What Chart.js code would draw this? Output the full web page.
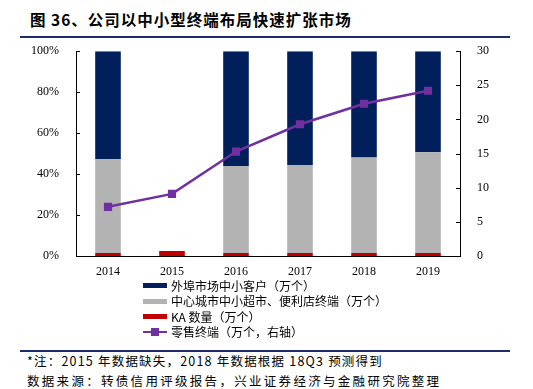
<!DOCTYPE html>
<html>
<head>
<meta charset="utf-8">
<script src="https://cdn.jsdelivr.net/npm/chart.js@4"></script>
<style>
    body { margin: 0; width: 533px; height: 389px; background: #fff; position: relative; overflow: hidden;
           font-family: "Noto Sans CJK SC", "Liberation Serif", serif; }
    #titulo { position: absolute; left: 30px; top: 8px; font-size: 15.5px; font-weight: bold; color: #000; white-space: nowrap; letter-spacing: 1px; }
    .linha { position: absolute; left: 20px; width: 490px; height: 2px; background: #1f2a6b; }
    #grafico { position: absolute; left: 0; top: 35px; }
    #legenda { position: absolute; left: 143px; top: 278px; font-size: 12px; line-height: 15.4px; color: #000; }
    .itemLegenda { display: flex; align-items: center; white-space: nowrap; }
    .amostra { width: 24px; height: 5px; margin-right: 4px; position: relative; }
    #notas { position: absolute; left: 27px; top: 351px; font-size: 12.5px; line-height: 20px; color: #000; white-space: nowrap; }
</style>
</head>
<body>
<div id="titulo">图 36、公司以中小型终端布局快速扩张市场</div>
<div class="linha" style="top:36px"></div>
<canvas id="grafico" width="533" height="243"></canvas>
<div id="legenda"></div>
<div class="linha" style="top:350px"></div>
<div id="notas">
    <div style="letter-spacing:1.2px">*注：2015 年数据缺失，2018 年数据根据 18Q3 预测得到</div>
    <div style="letter-spacing:2.3px">数据来源：转债信用评级报告，兴业证券经济与金融研究院整理</div>
</div>

<script>
const anos = ['2014', '2015', '2016', '2017', '2018', '2019'];

// percentuais (eixo esquerdo)
const kaQtd = [1.5, 2.4, 1.5, 1.5, 1.5, 1.5];
const centroCidade = [45.8, null, 42.4, 42.9, 46.6, 49.1];
const forasteiros = [52.7, null, 56.1, 55.6, 51.9, 49.4];

// terminais de varejo, 万个 (eixo direito)
const terminaisVarejo = [7.2, 9.1, 15.3, 19.3, 22.3, 24.2];

const nomesSeries = ['外埠市场中小客户（万个）', '中心城市中小超市、便利店终端（万个）', 'KA 数量（万个）', '零售终端（万个，右轴）'];
const coresSeries = ['#001f5b', '#b3b3b3', '#c00000', '#7030a0'];

const fonteEixo = { family: 'Liberation Serif', size: 12 };

// ticks pra dentro, igual ao original
const ticksInternos = {
    id: 'ticksInternos',
    afterDraw(chart) {
        const ctx = chart.ctx;
        ctx.save();
        ctx.strokeStyle = '#000';
        ctx.lineWidth = 1;
        ['y', 'y1'].forEach(id => {
            const escala = chart.scales[id];
            const x = id === 'y' ? escala.right : escala.left;
            const dir = id === 'y' ? 1 : -1;
            escala.ticks.forEach(t => {
                const py = Math.round(escala.getPixelForValue(t.value)) + 0.5;
                ctx.beginPath();
                ctx.moveTo(x, py);
                ctx.lineTo(x + dir * 4, py);
                ctx.stroke();
            });
        });
        ctx.restore();
    }
};

const ctx = document.getElementById('grafico').getContext('2d');
const grafico = new Chart(ctx, {
    data: {
        labels: anos,
        datasets: [
            { type: 'bar', label: nomesSeries[2], data: kaQtd, backgroundColor: coresSeries[2], yAxisID: 'y', order: 1 },
            { type: 'bar', label: nomesSeries[1], data: centroCidade, backgroundColor: coresSeries[1], yAxisID: 'y', order: 1 },
            { type: 'bar', label: nomesSeries[0], data: forasteiros, backgroundColor: coresSeries[0], yAxisID: 'y', order: 1 },
            {
                type: 'line', label: nomesSeries[3], data: terminaisVarejo, yAxisID: 'y1', order: 0,
                borderColor: coresSeries[3], backgroundColor: coresSeries[3], borderWidth: 2.5,
                pointStyle: 'rect', pointRadius: 4, tension: 0
            }
        ]
    },
    options: {
        responsive: false,
        animation: false,
        layout: { padding: { top: 5, left: 0, right: 0, bottom: 0 } },
        plugins: { legend: { display: false }, tooltip: { enabled: false } },
        datasets: { bar: { barPercentage: 0.4, categoryPercentage: 1 } },
        scales: {
            x: {
                stacked: true,
                grid: { display: false },
                border: { display: true, color: '#000', width: 1 },
                ticks: { font: fonteEixo, color: '#000', padding: 1 },
                afterFit: s => { s.height = 22; }
            },
            y: {
                stacked: true, min: 0, max: 100, position: 'left',
                grid: { display: false },
                border: { display: true, color: '#000', width: 1 },
                ticks: { stepSize: 20, font: fonteEixo, color: '#000', padding: 9, callback: v => v + '%' },
                afterFit: s => { s.width = 76; }
            },
            y1: {
                min: 0, max: 30, position: 'right',
                grid: { display: false },
                border: { display: true, color: '#000', width: 1 },
                ticks: { stepSize: 5, font: fonteEixo, color: '#000', padding: 9 },
                afterFit: s => { s.width = 73; }
            }
        }
    },
    plugins: [ticksInternos]
});

// legenda em coluna, na ordem do original
const legenda = document.getElementById('legenda');
for (let i = 0; i < nomesSeries.length; i++) {
    let amostra = i < 3
        ? `<span class="amostra" style="background:${coresSeries[i]}"></span>`
        : `<span class="amostra" style="height:2px;background:${coresSeries[i]}"><span style="position:absolute;left:8px;top:-3px;width:8px;height:8px;background:${coresSeries[i]}"></span></span>`;
    legenda.innerHTML += `<div class="itemLegenda">${amostra}<span>${nomesSeries[i]}</span></div>`;
}
</script>
</body>
</html>
